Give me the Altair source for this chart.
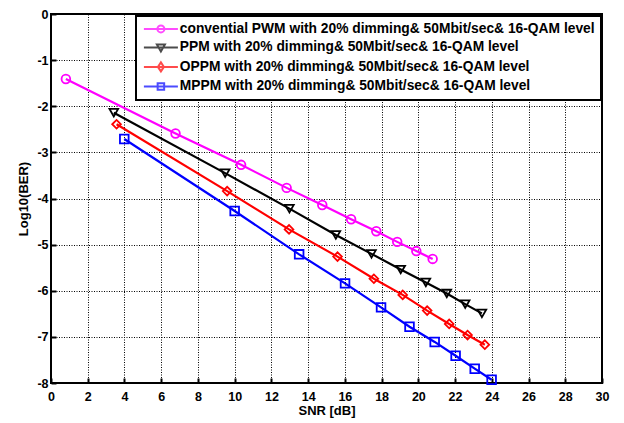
import altair as alt
import pandas as pd

series_names = [
    "convential PWM with 20% dimming& 50Mbit/sec& 16-QAM level",
    "PPM with 20% dimming& 50Mbit/sec& 16-QAM level",
    "OPPM with 20% dimming& 50Mbit/sec& 16-QAM level",
    "MPPM with 20% dimming& 50Mbit/sec& 16-QAM level",
]
colors = ["#FF00FF", "#000000", "#FF0000", "#0000FF"]

pwm_x = [0.81, 6.78, 10.35, 12.83, 14.77, 16.34, 17.71, 18.85, 19.89, 20.78]
pwm_y = [-1.41, -2.59, -3.27, -3.77, -4.14, -4.45, -4.71, -4.94, -5.14, -5.31]
ppm_x = [3.42, 9.48, 12.98, 15.51, 17.45, 19.04, 20.41, 21.55, 22.55, 23.46]
ppm_y = [-2.14, -3.45, -4.22, -4.79, -5.20, -5.54, -5.82, -6.06, -6.29, -6.49]
oppm_x = [3.57, 9.59, 12.96, 15.60, 17.58, 19.15, 20.48, 21.68, 22.68, 23.62]
oppm_y = [-2.39, -3.84, -4.67, -5.26, -5.74, -6.09, -6.43, -6.72, -6.96, -7.17]
mppm_x = [3.99, 10.00, 13.51, 16.01, 17.97, 19.52, 20.89, 22.03, 23.07, 23.99]
mppm_y = [-2.71, -4.27, -5.21, -5.84, -6.36, -6.78, -7.11, -7.41, -7.69, -7.93]

x_ticks = list(range(0, 31, 2))
y_ticks = list(range(-8, 1))

rows = []
for name, xs, ys in zip(series_names,
                        [pwm_x, ppm_x, oppm_x, mppm_x],
                        [pwm_y, ppm_y, oppm_y, mppm_y]):
    for i, (a, b) in enumerate(zip(xs, ys)):
        rows.append({"series": name, "snr": a, "ber": b, "order": i})
df = pd.DataFrame(rows)

FONT = "Liberation Sans"

line_path = "M-3.4,0H3.4 "
legend_paths = [
    line_path + "M-0.7,0A0.7,0.7 0 1,0 0.7,0A0.7,0.7 0 1,0 -0.7,0",
    line_path + "M-0.8,-0.6H0.8L0,0.8Z",
    line_path + "M0,-0.9L0.6,0L0,0.9L-0.6,0Z",
    line_path + "M-0.65,-0.65H0.65V0.65H-0.65Z",
]

x_enc = alt.X("snr:Q", scale=alt.Scale(domain=[0, 30], nice=False, zero=False),
              axis=alt.Axis(values=x_ticks, title="SNR [dB]", offset=-5, tickSize=5,
                            domain=False, labelPadding=7, titlePadding=2,
                            labelExpr="'' + datum.value",
                            labelFlush=False, labelOverlap=False))
y_enc = alt.Y("ber:Q", scale=alt.Scale(domain=[-8, 0], nice=False, zero=False),
              axis=alt.Axis(values=y_ticks, title="Log10(BER)", offset=-5, tickSize=5,
                            domain=False, labelPadding=3, titlePadding=6,
                            labelExpr="'' + datum.value",
                            labelFlush=False, labelOverlap=False))

cscale = alt.Scale(domain=series_names, range=colors)

base = alt.Chart(df)

lines = base.mark_line(strokeWidth=2.2).encode(
    x=x_enc, y=y_enc,
    color=alt.Color("series:N", scale=cscale, legend=None),
    order="order:Q",
)

points = base.mark_point(filled=False, strokeWidth=1.8, size=75, opacity=1).encode(
    x=x_enc, y=y_enc,
    color=alt.Color("series:N", scale=cscale, legend=None),
    shape=alt.Shape("series:N",
                    scale=alt.Scale(domain=series_names,
                                    range=["circle", "triangle-down", "diamond", "square"]),
                    legend=None),
)

leg_props = dict(
    orient="none", legendX=85, legendY=2, title=None,
    labelFont=FONT, labelFontSize=13.8, labelFontWeight="bold", labelColor="black",
    labelLimit=0, symbolSize=100, symbolStrokeWidth=2, symbolFillColor="transparent",
    symbolOffset=12, labelOffset=12, rowPadding=2.5, padding=6,
    strokeColor="black", fillColor="white",
)

legend_layer = base.transform_filter("false").mark_point(filled=False, strokeWidth=2).encode(
    x=x_enc, y=y_enc,
    color=alt.Color("series:N", scale=cscale, legend=alt.Legend(**leg_props)),
    shape=alt.Shape("series:N", scale=alt.Scale(domain=series_names, range=legend_paths),
                    legend=alt.Legend(**leg_props)),
)

chart = alt.layer(lines, points, legend_layer).resolve_scale(
    color="independent", shape="independent"
).properties(
    width=551, height=369,
    padding={"left": 51, "top": 14, "right": 22, "bottom": 40},
    autosize=alt.AutoSizeParams(type="none"),
    background="white",
).configure_view(
    stroke="black", strokeWidth=2
).configure_axis(
    labelFont=FONT, labelFontSize=12.5, labelFontWeight="bold", labelColor="black",
    titleFont=FONT, titleFontSize=13, titleFontWeight="bold", titleColor="black",
    grid=True, gridColor="black", gridDash=[1, 1.5], gridWidth=1, gridOpacity=1,
    tickColor="black", tickWidth=2,
).configure_legend(
    strokeWidth=2
)

chart.save("out.html", embed_options={"renderer": "svg", "actions": False})
